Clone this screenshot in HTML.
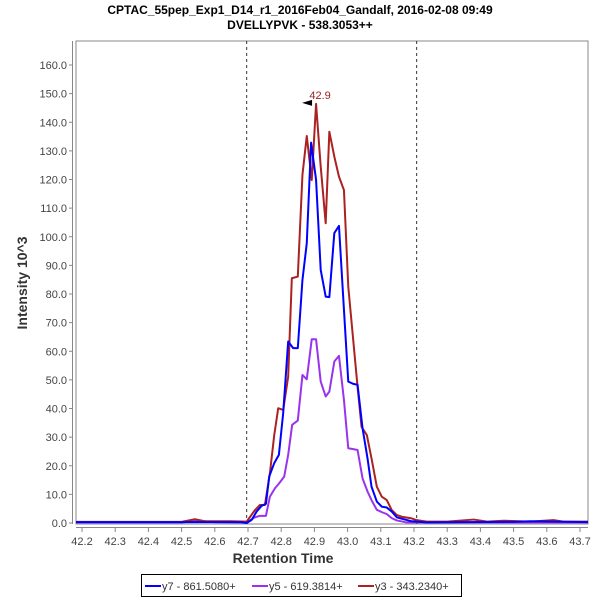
<!DOCTYPE html>
<html><head><meta charset="utf-8"><style>
body{margin:0;background:#fff;font-family:"Liberation Sans",sans-serif}
svg text{font-family:"Liberation Sans",sans-serif}
</style></head><body>
<svg id="c" width="600" height="600" xmlns="http://www.w3.org/2000/svg">
<defs><clipPath id="pc"><rect x="76" y="41" width="512" height="483"/></clipPath></defs>
<text x="300" y="14" text-anchor="middle" font-size="12" font-weight="bold" fill="#000">CPTAC_55pep_Exp1_D14_r1_2016Feb04_Gandalf, 2016-02-08 09:49</text>
<text x="300" y="29" text-anchor="middle" font-size="12" font-weight="bold" fill="#000">DVELLYPVK - 538.3053++</text>
<rect x="76" y="41" width="512" height="483" fill="#fff" stroke="#888"/>
<g id="axes"></g>
<g id="series" clip-path="url(#pc)"></g>
<g id="annot"></g>
<text x="283" y="563" text-anchor="middle" font-size="14" font-weight="bold" fill="#333">Retention Time</text>
<text transform="translate(27,283) rotate(-90)" text-anchor="middle" font-size="14" font-weight="bold" fill="#333">Intensity 10^3</text>
<g>
<rect x="141.5" y="574.5" width="320" height="22" fill="#fff" stroke="#000"/>
<line x1="145" y1="586" x2="161" y2="586" stroke="#0000ff" stroke-width="2"/>
<text x="162" y="590" font-size="11" fill="#333">y7 - 861.5080+</text>
<line x1="252" y1="586" x2="268" y2="586" stroke="#9933ee" stroke-width="2"/>
<text x="269" y="590" font-size="11" fill="#333">y5 - 619.3814+</text>
<line x1="358" y1="586" x2="374" y2="586" stroke="#aa2222" stroke-width="2"/>
<text x="375" y="590" font-size="11" fill="#333">y3 - 343.2340+</text>
</g>
</svg>
<script>
const xTicks=["42.2","42.3","42.4","42.5","42.6","42.7","42.8","42.9","43.0","43.1","43.2","43.3","43.4","43.5","43.6","43.7"];
const yTicks=[0,10,20,30,40,50,60,70,80,90,100,110,120,130,140,150,160];
const markers=[42.696,43.208];
const peakTime=42.905, peakValue=146.4, peakLabel="42.9";
const tBlue=[42.18,42.3,42.45,42.6,42.68,42.696,42.711,42.726,42.741,42.754,42.764,42.779,42.793,42.806,42.821,42.836,42.850,42.864,42.877,42.890,42.905,42.919,42.934,42.945,42.960,42.974,42.989,43.002,43.017,43.030,43.045,43.060,43.072,43.088,43.103,43.118,43.133,43.148,43.163,43.193,43.238,43.35,43.5,43.55,43.74];
const vBlue=[0.3,0.3,0.3,0.3,0.3,0,1.1,4.0,6.0,6.7,16.3,20.9,23.8,38.4,63.4,61.1,61.1,84.9,97.7,132.9,119.9,88.4,79.1,78.9,101.3,103.8,74.5,49.4,48.6,48.3,33.1,22.6,12.7,7.5,5.7,5.4,4.0,2.0,1.5,0.6,0.2,0.3,0.4,0.6,0.3];
const tPurple=[42.18,42.3,42.5,42.55,42.6,42.68,42.696,42.721,42.736,42.754,42.766,42.781,42.794,42.809,42.821,42.833,42.850,42.864,42.877,42.892,42.905,42.919,42.934,42.945,42.960,42.974,42.989,43.002,43.017,43.030,43.045,43.060,43.072,43.088,43.103,43.118,43.133,43.148,43.178,43.25,43.5,43.74];
const vPurple=[0.2,0.2,0.2,0.8,0.3,0.2,0.2,2.0,2.5,2.5,9.2,12.1,13.9,16.2,23.8,34.3,35.8,51.7,50.2,64.2,64.2,49.4,44.2,45.9,56.4,58.4,43.0,26.1,25.8,25.5,15.6,11.0,8.0,4.6,3.8,3.1,1.7,0.9,0.2,0.2,0.2,0.2];
const tRed=[42.18,42.3,42.5,42.54,42.57,42.65,42.696,42.721,42.736,42.751,42.766,42.779,42.791,42.806,42.821,42.832,42.850,42.864,42.877,42.892,42.905,42.919,42.934,42.945,42.960,42.974,42.989,43.002,43.015,43.030,43.042,43.058,43.073,43.088,43.103,43.118,43.133,43.148,43.163,43.193,43.208,43.238,43.3,43.38,43.42,43.47,43.55,43.62,43.65,43.74];
const vRed=[0.4,0.4,0.4,1.3,0.6,0.6,0.5,4.5,6.3,6.3,17.4,30.7,40.1,39.5,51.1,85.5,86.1,121.6,135.2,119.8,146.4,124.5,104.7,136.7,128.0,121.0,116.3,82.6,66.3,47.6,33.6,30.7,22.0,12.7,9.2,8.0,4.5,2.8,2.2,1.6,1.0,0.5,0.5,1.2,0.5,0.8,0.5,1.0,0.5,0.5];
const NS="http://www.w3.org/2000/svg";
const X=t=>82+(t-42.2)*332;
const Y=v=>523-v*2.8625;
function el(tag,attrs,parent){const e=document.createElementNS(NS,tag);for(const k in attrs)e.setAttribute(k,attrs[k]);parent.appendChild(e);return e;}
const ax=document.getElementById('axes');
let yl=el('line',{x1:72.5,y1:41,x2:72.5,y2:524,stroke:'#888'},ax);


let xl=el('line',{x1:76,y1:527.5,x2:588,y2:527.5,stroke:'#888'},ax);


yTicks.forEach(v=>{const y=Y(v);
el('line',{x1:69,y1:y,x2:72,y2:y,stroke:'#888'},ax);
const t=el('text',{x:67,y:y+4,'text-anchor':'end','font-size':11,fill:'#444'},ax);t.textContent=v.toFixed(1);

});
xTicks.forEach(s=>{const x=X(parseFloat(s));
el('line',{x1:x,y1:528,x2:x,y2:532,stroke:'#888'},ax);
const t=el('text',{x:x,y:545,'text-anchor':'middle','font-size':11,fill:'#444'},ax);t.textContent=s;

});
markers.forEach(m=>{const l=el('line',{x1:X(m),y1:41,x2:X(m),y2:524,stroke:'#333','stroke-dasharray':'3,3'},ax);

});
const sg=document.getElementById('series');
function line(ts,vs,color,name){const p=el('polyline',{points:ts.map((t,i)=>X(t)+','+Y(vs[i])).join(' '),fill:'none',stroke:color,'stroke-width':2,'stroke-linejoin':'round'},sg);

}
line(tPurple,vPurple,'#9933ee','series-y5');
line(tRed,vRed,'#aa2222','series-y3');
line(tBlue,vBlue,'#0000ff','series-y7');
const an=document.getElementById('annot');
const px=X(peakTime),py=Y(peakValue);
const ar=el('polygon',{points:`${px-14},${py-1} ${px-4},${py-4} ${px-4},${py+2}`,fill:'#000'},an);


const pl=el('text',{x:px+4,y:py-5,'text-anchor':'middle','font-size':11,fill:'#992222'},an);pl.textContent=peakLabel;


</script>
</body></html>
